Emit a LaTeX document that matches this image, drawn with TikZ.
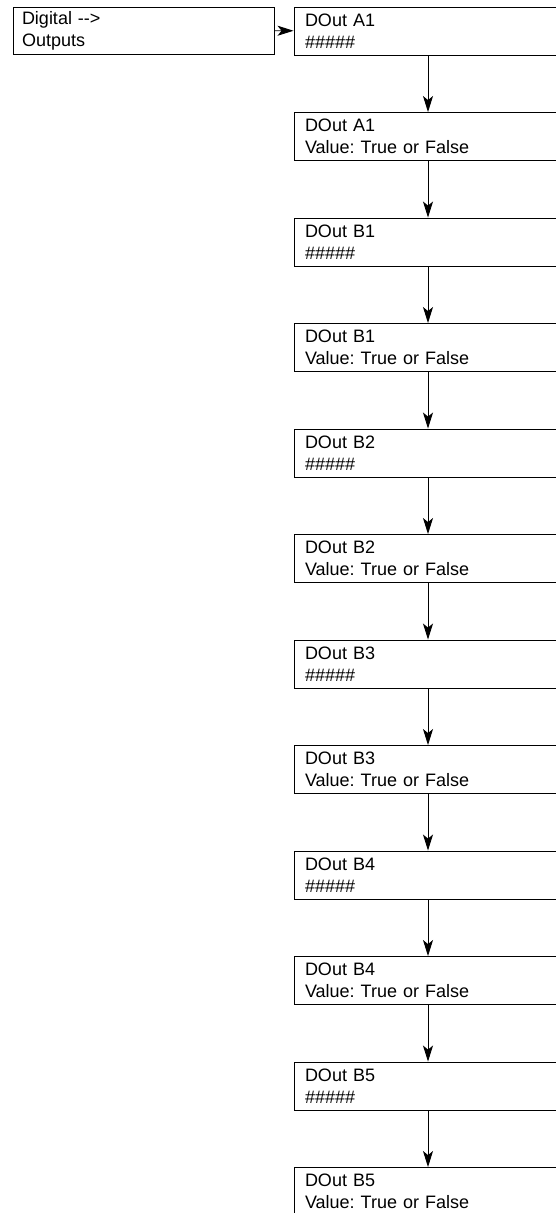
\documentclass[tikz,border=0pt]{standalone}
\usepackage{fontspec}
\setmainfont{Liberation Sans}
\frenchspacing
\usepackage{tikz}
\usetikzlibrary{shapes,arrows.meta}
\tikzstyle{block} = [rectangle, draw, line width=0.9pt, text width=246pt, align=left,
    minimum width=268pt, minimum height=48pt, inner xsep=11pt, inner ysep=0pt,
    font=\fontsize{18pt}{22pt}\selectfont]
\tikzstyle{flow} = [line width=0.9pt, -{Stealth[length=16pt,width=10pt,inset=4pt]}]

\begin{document}
\begin{tikzpicture}[node distance=105.5pt, auto]
		\useasboundingbox (0,0) rectangle (555pt,-1213pt);
		\node [block, text width=243pt, minimum width=261pt, minimum height=47pt, inner xsep=9pt] (menu) at (143.5pt,-30.5pt) {Digital -{}-> \\
			Outputs};
		\node [block] (a1) at (428pt,-31pt) {DOut A1 \\ \#\#\#\#\#};
		\node [block, below of=a1] (a1val) {DOut A1 \\ Value: True or False};
		\node [block, below of=a1val] (b1) {DOut B1 \\ \#\#\#\#\#};
		\node [block, below of=b1] (b1val) {DOut B1 \\ Value: True or False};
		\node [block, below of=b1val] (b2) {DOut B2 \\ \#\#\#\#\#};
		\node [block, below of=b2] (b2val) {DOut B2 \\ Value: True or False};
		\node [block, below of=b2val] (b3) {DOut B3 \\ \#\#\#\#\#};
		\node [block, below of=b3] (b3val) {DOut B3 \\ Value: True or False};
		\node [block, below of=b3val] (b4) {DOut B4 \\ \#\#\#\#\#};
		\node [block, below of=b4] (b4val) {DOut B4 \\ Value: True or False};
		\node [block, below of=b4val] (b5) {DOut B5 \\ \#\#\#\#\#};
		\node [block, below of=b5] (b5val) {DOut B5 \\ Value: True or False};
		
		\draw [flow] (menu) -- (a1);
		\draw [flow] (a1) -- (a1val);
		\draw [flow] (a1val) -- (b1);
		\draw [flow] (b1) -- (b1val);
		\draw [flow] (b1val) -- (b2);
		\draw [flow] (b2) -- (b2val);
		\draw [flow] (b2val) -- (b3);
		\draw [flow] (b3) -- (b3val);
		\draw [flow] (b3val) -- (b4);
		\draw [flow] (b4) -- (b4val);
		\draw [flow] (b4val) -- (b5);
		\draw [flow] (b5) -- (b5val);
		
\end{tikzpicture}
\end{document}
